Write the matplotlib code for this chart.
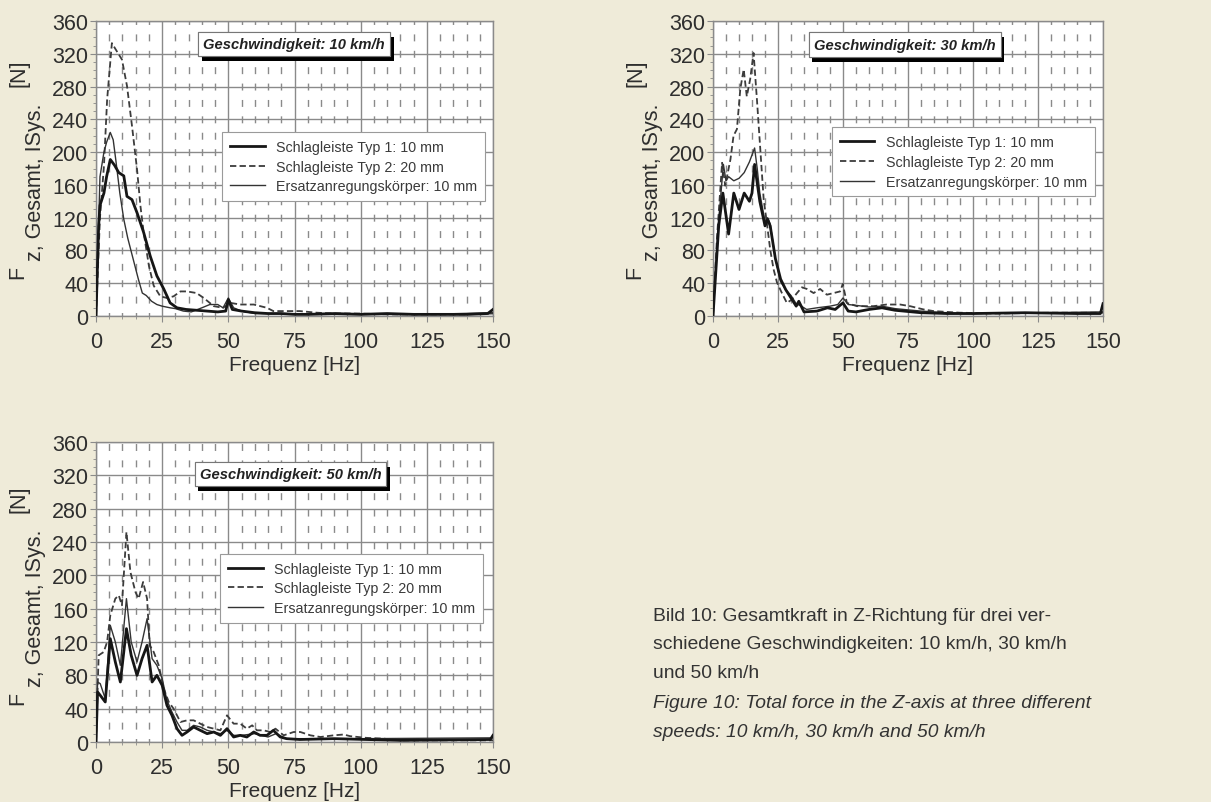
import matplotlib
matplotlib.use("Agg")
import matplotlib.pyplot as plt
import matplotlib.patheffects as pe
from matplotlib.ticker import MultipleLocator

# --- 10 km/h ---
f10_typ1 = [0, 1, 1.5, 3, 4, 5.4, 7, 8.6, 10.5, 11.7, 13.6, 15.5, 18, 20.5, 23, 25.6, 28, 30.6, 34, 38, 42, 46, 49, 50, 51.5,
            55, 60, 65, 70, 75, 80, 90, 100, 110, 120, 130, 140, 148, 150]
y10_typ1 = [0, 110, 135, 150, 170, 191, 184, 175, 171, 146, 142, 126, 102, 73, 49, 33, 16, 10, 8, 7, 6, 5, 6, 20, 8,
            6, 4, 3, 3, 2, 2, 3, 2, 3, 2, 2, 2, 3, 8]
f10_typ2 = [0, 1.5, 3, 4.2, 6, 7.5, 9.8, 11.7, 13.6, 15.5, 16.8, 18, 20, 21.8, 24.3, 26.8, 29.3, 31.9, 34.4, 38, 40.7,
            44.5, 48, 50.8, 54.5, 59.6, 64.6, 67, 77, 83.5, 90, 100, 110, 125, 140, 150]
y10_typ2 = [0, 120, 183, 264, 333, 325, 313, 281, 232, 179, 134, 102, 61, 37, 24, 22, 24, 30, 30, 28, 22,
            12, 10, 16, 14, 14, 10, 6, 6, 4, 3, 3, 2, 2, 2, 3]
f10_ers = [0, 1.5, 3, 4, 5.4, 6.5, 7.5, 9, 10.5, 12, 14, 16, 17.5, 19, 21, 23, 25, 28, 30, 33, 36, 40, 43, 46, 48, 50,
           52, 55, 60, 70, 80, 100, 125, 150]
y10_ers = [0, 170, 200, 212, 224, 215, 190, 150, 118, 95, 70, 45, 28, 25, 18, 14, 12, 10, 9, 6, 5, 10, 14, 14, 10, 22,
           10, 6, 3, 3, 2, 2, 2, 4]

# --- 30 km/h ---
f30_typ1 = [0, 2.2, 3.8, 6, 8, 10, 12, 14, 15, 16, 18, 20, 21, 22, 24, 26, 28, 30, 32, 33, 35, 40, 44, 47, 50, 52,
            55, 60, 65, 70, 80, 90, 100, 120, 140, 149, 150]
y30_typ1 = [0, 110, 150, 100, 150, 130, 150, 140, 150, 185, 140, 110, 118, 110, 70, 45, 32, 22, 12, 18, 5, 6, 10, 8,
            16, 6, 5, 8, 10, 7, 4, 3, 3, 4, 3, 3, 15]
f30_typ2 = [0, 1.5, 3.5, 4.7, 6.7, 7.9, 9.2, 10.5, 11.8, 13, 14.3, 15.6, 16.9, 18.2, 19.5, 20.7, 22, 23.3, 24.6, 26.5,
            28.4, 30.3, 32.3, 34.2, 36.1, 38.7, 41.2, 43.8, 46.4, 48.9, 49.9, 51.5, 55.3, 61.7, 66.8, 72, 75.8, 81,
            84.8, 95, 110, 130, 150]
y30_typ2 = [0, 94, 187, 159, 191, 220, 228, 277, 301, 268, 289, 321, 264, 203, 142, 114, 81, 57, 41, 28,
            16, 20, 28, 35, 33, 28, 33, 26, 28, 30, 39, 16, 12, 12, 14, 14, 12, 8,
            6, 4, 3, 4, 4]
f30_ers = [0, 2, 4, 5, 6, 8, 10, 12, 14, 16, 17, 18, 20, 21, 22, 24, 26, 28, 30, 32, 34, 36, 40, 45, 48, 50, 52, 55,
           60, 65, 70, 80, 90, 100, 125, 150]
y30_ers = [0, 110, 185, 165, 170, 165, 168, 175, 188, 205, 180, 150, 115, 120, 112, 70, 42, 32, 25, 15, 12, 8, 10, 12,
           14, 22, 14, 13, 11, 12, 9, 6, 4, 3, 4, 5]

# --- 50 km/h ---
f50_typ1 = [0, 0.6, 1.6, 3.5, 5.4, 7.3, 9.2, 11.5, 13.3, 15.5, 17.4, 19.3, 21.2, 23, 25, 26.8, 28.7, 30.6, 32.5, 34.4,
            36.9, 39.4, 42, 44.5, 47, 49.5, 52, 54.5, 57, 59.6, 62, 64.6, 67, 69.6, 72, 77, 90, 102, 115, 149, 150]
y50_typ1 = [0, 60, 56, 48, 124, 96, 72, 136, 104, 80, 100, 116, 72, 80, 68, 44, 32, 16, 8, 12,
            18, 14, 10, 12, 8, 16, 6, 8, 6, 12, 8, 8, 14, 6, 4, 3, 4, 3, 2, 3, 8]
f50_typ2 = [0, 1, 2.9, 4.2, 5.4, 7.3, 8.6, 9.8, 11.5, 13, 14.9, 16.1, 17.8, 19.3, 20.3, 21.8, 23.7, 25.6, 27.5, 29.3,
            31.9, 34.4, 36.9, 39.4, 42, 44.5, 47, 49.5, 52, 54.5, 57, 59, 60.8, 63.3, 65.9, 67.8, 70.9, 74.7, 77.2,
            81, 84.8, 89.8, 93.6, 96, 102, 108.7, 115, 130, 150]
y50_typ2 = [0, 104, 108, 120, 152, 172, 176, 164, 252, 204, 180, 172, 192, 172, 116, 108, 92, 64, 48, 40,
            24, 26, 26, 22, 18, 16, 14, 32, 22, 22, 16, 20, 14, 14, 12, 16, 8, 12, 12,
            8, 6, 8, 9, 7, 5, 4, 2, 2, 2]
f50_ers = [0, 0.6, 1.6, 3.5, 5.4, 7.3, 9.2, 11.5, 13.3, 15.5, 17.4, 19.3, 21.2, 23, 25, 26.8, 28.7, 30.6, 32.5, 34.4,
           36.9, 39.4, 42, 44.5, 47, 49.5, 52, 55, 60, 65, 68, 72, 80, 100, 150]
y50_ers = [0, 72, 70, 52, 140, 120, 92, 172, 120, 96, 120, 148, 100, 92, 76, 50, 36, 24, 14, 14,
           20, 18, 14, 12, 10, 14, 8, 8, 10, 6, 10, 4, 4, 4, 5]

speeds = ["10", "30", "50"]
labels = ["Schlagleiste Typ 1: 10 mm", "Schlagleiste Typ 2: 20 mm", "Ersatzanregungskörper: 10 mm"]
x_ticks = [0, 25, 50, 75, 100, 125, 150]
y_ticks = [0, 40, 80, 120, 160, 200, 240, 280, 320, 360]

panels = [
    (f10_typ1, y10_typ1, f10_typ2, y10_typ2, f10_ers, y10_ers),
    (f30_typ1, y30_typ1, f30_typ2, y30_typ2, f30_ers, y30_ers),
    (f50_typ1, y50_typ1, f50_typ2, y50_typ2, f50_ers, y50_ers),
]

W, H = 1211, 803
bg = "#EFEBD9"
ink = "#2e2e2e"
plt.rcParams["font.family"] = ["Liberation Sans", "DejaVu Sans"]

fig = plt.figure(figsize=(W / 100, H / 100), dpi=100, facecolor=bg)

# axes boxes in pixels: left, top, right, bottom
boxes = [(96, 22, 493, 317), (713, 22, 1103, 317), (96, 443, 493, 743)]
legend_anchor = [(0.98, 0.624), (0.979, 0.64), (0.975, 0.627)]
title_pos = [(0.499, 0.922), (0.492, 0.92), (0.49, 0.893)]

for i, (l, t, r, b) in enumerate(boxes):
    ax = fig.add_axes([l / W, 1 - b / H, (r - l) / W, (b - t) / H])
    ax.set_facecolor("white")
    fa, ya, fb, yb, fc, yc = panels[i]

    ax.plot(fa, ya, color="#161616", lw=2.0, label=labels[0], zorder=5)
    ax.plot(fb, yb, color="#3c3c3c", lw=1.3, ls=(0, (3.5, 1.8)), label=labels[1], zorder=4)
    ax.plot(fc, yc, color="#333333", lw=1.0, label=labels[2], zorder=4)

    ax.set_xlim(0, 150)
    ax.set_ylim(0, 360)
    ax.set_xticks(x_ticks)
    ax.set_yticks(y_ticks)
    ax.xaxis.set_minor_locator(MultipleLocator(5))
    ax.yaxis.set_minor_locator(MultipleLocator(10))
    ax.grid(which="major", color="#8a8a8a", lw=1.0)
    ax.grid(which="minor", axis="x", color="#8a8a8a", lw=1.0, ls=(2.5, (5, 6.8)))
    ax.tick_params(which="major", labelsize=15.5, colors="#8a8a8a", labelcolor=ink, length=4, pad=1.5)
    ax.tick_params(axis="x", which="major", pad=7)
    ax.tick_params(which="minor", colors="#8a8a8a", length=2)
    for s in ax.spines.values():
        s.set_color("#8a8a8a")
        s.set_linewidth(1.0)
    ax.set_xlabel("Frequenz [Hz]", fontsize=15, color=ink, labelpad=2)

    leg = ax.legend(loc="upper right", bbox_to_anchor=legend_anchor[i], borderaxespad=0, fontsize=10.3,
                    frameon=True, fancybox=False, edgecolor="#9a9a9a", framealpha=1, handlelength=2.4,
                    labelspacing=0.4, borderpad=0.55, handletextpad=0.8)
    leg.get_frame().set_linewidth(0.8)
    for txt in leg.get_texts():
        txt.set_color("#3a3a3a")
    leg.set_zorder(10)

    tx, ty = title_pos[i]
    title = ax.text(tx, ty, "Geschwindigkeit: " + speeds[i] + " km/h", transform=ax.transAxes,
                    ha="center", va="center", fontsize=10.6, fontweight="bold", fontstyle="italic",
                    color="#222222", zorder=11,
                    bbox=dict(boxstyle="square,pad=0.35", facecolor="white", edgecolor="#777777", lw=0.8))
    title.get_bbox_patch().set_path_effects([
        pe.withSimplePatchShadow(offset=(2.5, -3.5), shadow_rgbFace="black", alpha=1.0), pe.Normal()])

    # y label: "F" with the index shifted as a subscript and the unit above
    fig.text((l - 78) / W, 1 - (b - 45) / H, "F", rotation=90, fontsize=15.5, color=ink, ha="center", va="center")
    fig.text((l - 60) / W, 1 - (b - 135) / H, "z, Gesamt, ISys.", rotation=90, fontsize=15.5, color=ink,
             ha="center", va="center")
    fig.text((l - 77) / W, 1 - (b - 244) / H, "[N]", rotation=90, fontsize=15.5, color=ink, ha="center", va="center")

cap = "#333333"
cap_size = 13.9
fig.text(653 / W, 1 - 617 / H, "Bild 10: Gesamtkraft in Z-Richtung für drei ver-", fontsize=cap_size, color=cap,
         va="center")
fig.text(653 / W, 1 - 645 / H, "schiedene Geschwindigkeiten: 10 km/h, 30 km/h", fontsize=cap_size, color=cap,
         va="center")
fig.text(653 / W, 1 - 674 / H, "und 50 km/h", fontsize=cap_size, color=cap, va="center")
fig.text(653 / W, 1 - 704 / H, "Figure 10: Total force in the Z-axis at three different", fontsize=cap_size,
         color=cap, va="center", fontstyle="italic")
fig.text(653 / W, 1 - 733 / H, "speeds: 10 km/h, 30 km/h and 50 km/h", fontsize=cap_size, color=cap, va="center",
         fontstyle="italic")

fig.savefig("out.png", dpi=100, facecolor=bg)
